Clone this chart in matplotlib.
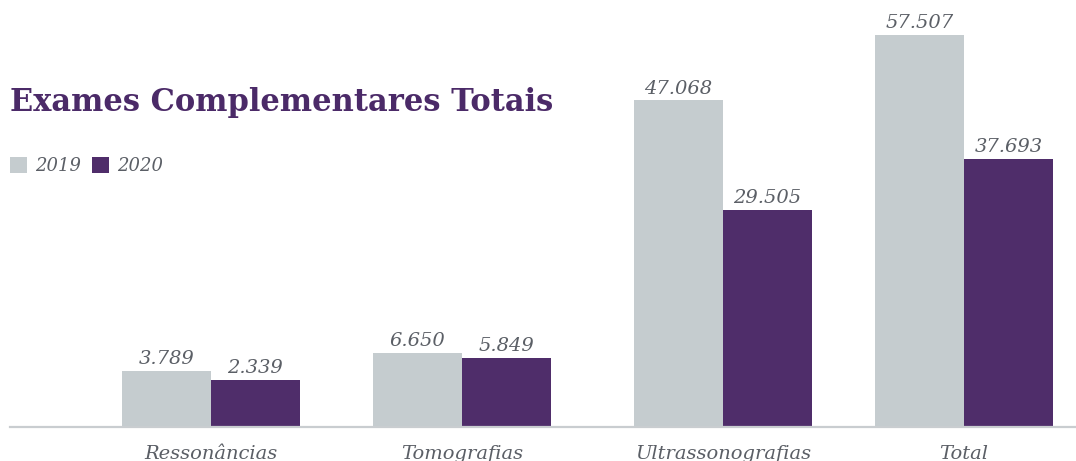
import numpy as np
import matplotlib.pyplot as plt

# dados
categorias = ['Ressonâncias', 'Tomografias', 'Ultrassonografias', 'Total']
anos = ['2019', '2020']
valores_2019 = [3789, 6650, 47068, 57507]
valores_2020 = [2339, 5849, 29505, 37693]

cor_2019 = '#c5cccf'
cor_2020 = '#4f2d6a'
cor_texto = '#5b5f66'
cor_titulo = '#4b2a68'

fmt = lambda v: f'{v:,}'.replace(',', '.')

fig = plt.figure(figsize=(10.76, 4.61), dpi=100)
ax = fig.add_axes([10 / 1076, 34 / 461, 1 - 10 / 1076, 427 / 461])

x = np.array([0, 1, 2.04, 3])
largura = 0.355
base = -5160  # eixo não começa em zero

b1 = ax.bar(x - largura / 2, np.array(valores_2019) - base, largura, bottom=base,
            color=cor_2019, label=anos[0])
b2 = ax.bar(x + largura / 2, np.array(valores_2020) - base, largura, bottom=base,
            color=cor_2020, label=anos[1])

for barras, vals in [(b1, valores_2019), (b2, valores_2020)]:
    for bar, v in zip(barras, vals):
        ax.annotate(fmt(v), (bar.get_x() + bar.get_width() / 2, v),
                    xytext=(0, 2), textcoords='offset points',
                    ha='center', va='bottom', fontsize=14, style='italic',
                    family='DejaVu Serif', color=cor_texto)

ax.set_xlim(-0.80, 3.446)
ax.set_ylim(base, base + 427 / 6.255e-3)

for s in ['top', 'right', 'left']:
    ax.spines[s].set_visible(False)
ax.spines['bottom'].set_color('#c9cdd0')
ax.spines['bottom'].set_linewidth(1.6)
ax.set_yticks([])
ax.set_xticks(x)
ax.set_xticklabels(categorias, fontsize=14, style='italic', family='DejaVu Serif',
                   color=cor_texto)
ax.tick_params(axis='x', length=0, pad=13)

fig.text(10 / 1076, 1 - 102 / 461, 'Exames Complementares Totais', fontsize=22,
         fontweight='heavy', family='DejaVu Serif', color=cor_titulo,
         va='center', ha='left')

leg = fig.legend(handles=[b1, b2], loc='center left',
                 bbox_to_anchor=(10 / 1076, 1 - 166 / 461), ncol=2, frameon=False,
                 borderaxespad=0, borderpad=0,
                 handlelength=0.95, handleheight=0.95, handletextpad=0.45,
                 columnspacing=0.6, prop={'family': 'DejaVu Serif', 'style': 'italic', 'size': 13})
for t in leg.get_texts():
    t.set_color(cor_texto)

fig.savefig('out.png', dpi=100)
